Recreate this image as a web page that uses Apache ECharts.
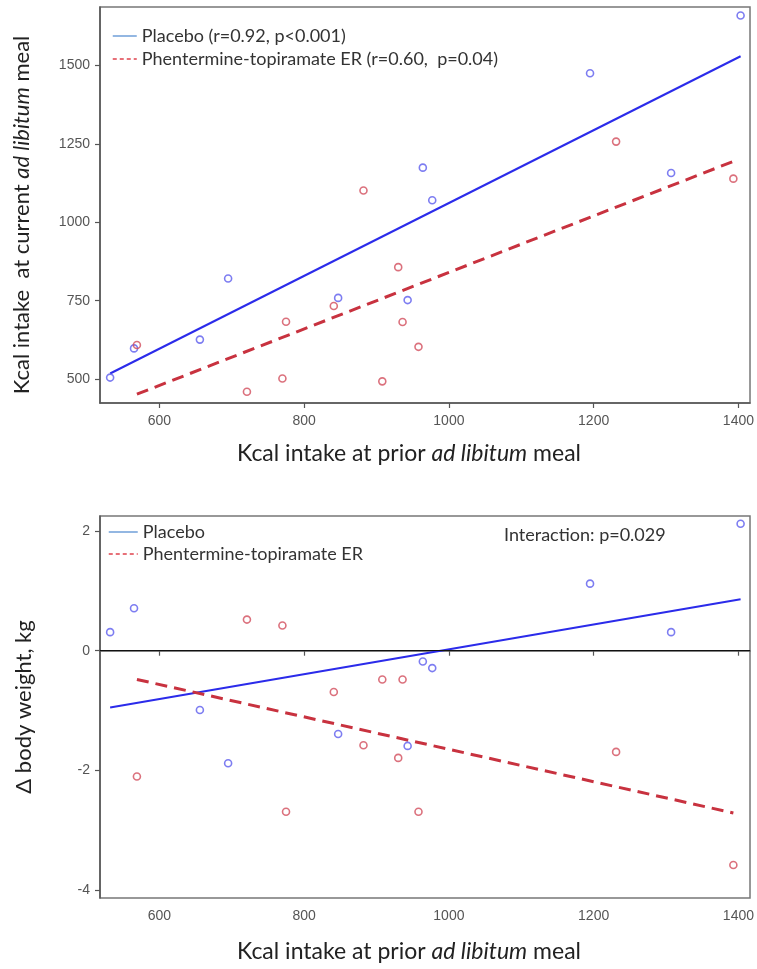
<!DOCTYPE html>
<html>
<head>
<meta charset="utf-8">
<script src="https://cdn.jsdelivr.net/npm/echarts@6/dist/echarts.min.js"></script>
<style>
html,body{margin:0;padding:0;background:#fff;}
#c{width:757px;height:969px;}
</style>
</head>
<body>
<div id="c"></div>
<script>
// ---- data ----
const xTicks = [600, 800, 1000, 1200, 1400];
const yTicksTop = [500, 750, 1000, 1250, 1500];
const yTicksBottom = [-4, -2, 0, 2];

const placeboKcalPrior   = [532, 565, 656, 695, 847, 943, 964, 977, 1195, 1307, 1403];
const placeboKcalCurrent = [505, 598, 626, 821, 759, 752, 1174, 1070, 1475, 1157, 1659];
const placeboWeightChg   = [0.31, 0.71, -0.99, -1.88, -1.39, -1.59, -0.18, -0.29, 1.12, 0.31, 2.12];

const ptKcalPrior   = [569, 721, 770, 775, 841, 882, 908, 930, 936, 958, 1231, 1393];
const ptKcalCurrent = [609, 460, 502, 683, 733, 1101, 493, 857, 682, 603, 1257, 1139];
const ptWeightChg   = [-2.10, 0.52, 0.42, -2.69, -0.69, -1.58, -0.48, -1.79, -0.48, -2.69, -1.69, -3.58];

// fitted lines (endpoints)
const placeboFitX = [532, 1403];
const placeboFitTopY = [518, 1529];
const placeboFitBottomY = [-0.95, 0.86];
const ptFitX = [569, 1393];
const ptFitTopY = [452, 1194];
const ptFitBottomY = [-0.48, -2.71];

const legendTop = ['Placebo (r=0.92, p<0.001)', 'Phentermine-topiramate ER (r=0.60,  p=0.04)'];
const legendBottom = ['Placebo', 'Phentermine-topiramate ER'];
const interactionText = 'Interaction: p=0.029';

// ---- helpers ----
const zip = (a, b) => a.map((v, i) => [v, b[i]]);
const FONT = 'Lato, "Open Sans", sans-serif';
const TICKFONT = '"Liberation Sans Narrow", "Liberation Sans", Arial, sans-serif';
const BLUE_PT = '#5c5cee';
const RED_PT = '#d24d5c';
const BLUE_LINE = '#2b2bea';
const RED_LINE = '#c8323f';
const TITLE_SIZE = 22;
const XTITLE_SIZE = 23;
const LEG_SIZE = 18;

function xAxisCfg(gi) {
  return {
    type: 'value', gridIndex: gi, min: 518, max: 1416,
    name: 'Kcal intake at prior {i|ad libitum} meal',
    nameLocation: 'middle', nameGap: gi === 0 ? 39 : 42,
    nameTextStyle: {
      fontFamily: FONT, fontSize: XTITLE_SIZE, color: '#222', padding: [0, 32, 0, 0],
      rich: { i: { fontFamily: FONT, fontSize: XTITLE_SIZE, color: '#222', fontStyle: 'italic' } }
    },
    axisLine: { show: true, lineStyle: { color: '#555', width: 1.5 } },
    axisTick: { show: true, length: 5, customValues: xTicks, lineStyle: { color: '#555', width: 1.2 } },
    axisLabel: { customValues: xTicks, margin: 11, fontFamily: TICKFONT, fontSize: 14, color: '#555',
      formatter: v => String(v) },
    splitLine: { show: false }
  };
}

function yAxisCfg(gi, min, max, ticks, name, gap, pad) {
  return {
    type: 'value', gridIndex: gi, min: min, max: max,
    name: name, nameLocation: 'middle', nameGap: gap,
    nameTextStyle: {
      fontFamily: FONT, fontSize: TITLE_SIZE, color: '#222', padding: pad,
      rich: { i: { fontFamily: FONT, fontSize: TITLE_SIZE, color: '#222', fontStyle: 'italic' } }
    },
    axisLine: { show: true, lineStyle: { color: '#555', width: 1.5 } },
    axisTick: { show: true, length: 5, customValues: ticks, lineStyle: { color: '#555', width: 1.2 } },
    axisLabel: { customValues: ticks, margin: 10, fontFamily: TICKFONT, fontSize: 14, color: '#555',
      formatter: v => String(v) },
    splitLine: { show: false }
  };
}

function scatter(name, xi, yi, data, color, extra) {
  return Object.assign({
    type: 'scatter', name: name, xAxisIndex: xi, yAxisIndex: yi, data: data,
    symbol: 'circle', symbolSize: 7,
    itemStyle: { color: 'rgba(255,255,255,0)', borderColor: color, borderWidth: 1.6 },
    z: 3
  }, extra || {});
}

function fitLine(name, xi, yi, data, color, dashed) {
  return {
    type: 'line', name: name, xAxisIndex: xi, yAxisIndex: yi, data: data,
    symbol: 'none', silent: true, z: 2,
    itemStyle: { color: color },
    lineStyle: dashed ? { color: color, width: 3, type: [12, 7] } : { color: color, width: 2 }
  };
}

const chart = echarts.init(document.getElementById('c'), null, { renderer: 'canvas' });

const legendItems = (names) => [
  { name: names[0], itemStyle: { opacity: 0 }, lineStyle: { color: '#6f9fd8', width: 1.5, type: 'solid' } },
  { name: names[1], itemStyle: { opacity: 0 }, lineStyle: { color: '#e0414c', width: 1.5, type: [4, 3] } }
];

const option = {
  backgroundColor: '#fff',
  animation: false,
  title: {
    text: interactionText, left: 499, top: 521,
    textStyle: { fontFamily: FONT, fontSize: LEG_SIZE, fontWeight: 'normal', color: '#333' }
  },
  legend: [
    {
      orient: 'vertical', left: 107, top: 22, itemWidth: 24, itemHeight: 14, itemGap: 5,
      textStyle: { fontFamily: FONT, fontSize: LEG_SIZE, color: '#333' },
      data: legendItems(legendTop)
    },
    {
      orient: 'vertical', left: 103, top: 518, itemWidth: 29, itemHeight: 14, itemGap: 4,
      textStyle: { fontFamily: FONT, fontSize: LEG_SIZE, color: '#333' },
      data: legendItems(legendBottom)
    }
  ],
  grid: [
    { left: 100, right: 5, top: 7, height: 396, show: true, borderColor: '#777', borderWidth: 1.5, backgroundColor: 'transparent' },
    { left: 100, right: 5, top: 516, height: 382, show: true, borderColor: '#777', borderWidth: 1.5, backgroundColor: 'transparent' }
  ],
  xAxis: [xAxisCfg(0), xAxisCfg(1)],
  yAxis: [
    yAxisCfg(0, 424, 1686, yTicksTop, 'Kcal intake  at current {i|ad libitum} meal', 67, [0, 20, 0, 0]),
    yAxisCfg(1, -4.13, 2.25, yTicksBottom, 'Δ body weight, kg', 65, [0, 0, 0, 0])
  ],
  series: [
    fitLine(legendTop[0], 0, 0, zip(placeboFitX, placeboFitTopY), BLUE_LINE, false),
    fitLine(legendTop[1], 0, 0, zip(ptFitX, ptFitTopY), RED_LINE, true),
    scatter('placebo-top', 0, 0, zip(placeboKcalPrior, placeboKcalCurrent), BLUE_PT),
    scatter('pt-top', 0, 0, zip(ptKcalPrior, ptKcalCurrent), RED_PT),

    scatter('zero-ref', 1, 1, [], '#000', {
      markLine: {
        silent: true, symbol: 'none', label: { show: false },
        lineStyle: { color: '#111', width: 1.2, type: 'solid' },
        data: [{ yAxis: 0 }]
      }
    }),
    fitLine(legendBottom[0], 1, 1, zip(placeboFitX, placeboFitBottomY), BLUE_LINE, false),
    fitLine(legendBottom[1], 1, 1, zip(ptFitX, ptFitBottomY), RED_LINE, true),
    scatter('placebo-bottom', 1, 1, zip(placeboKcalPrior, placeboWeightChg), BLUE_PT),
    scatter('pt-bottom', 1, 1, zip(ptKcalPrior, ptWeightChg), RED_PT)
  ]
};
chart.setOption(option);
</script>
</body>
</html>
